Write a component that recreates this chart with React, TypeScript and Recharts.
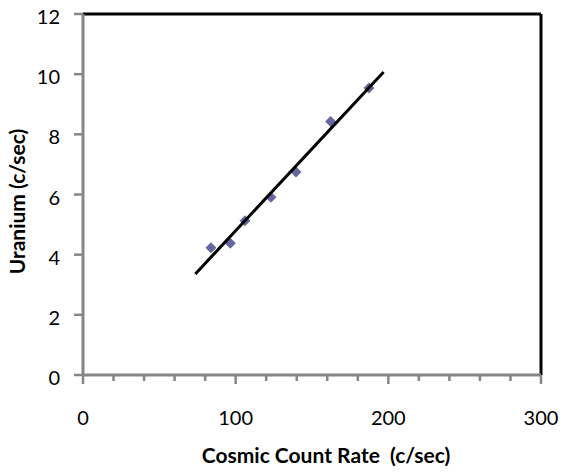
import React from "react";
import { ScatterChart, Scatter, XAxis, YAxis, ReferenceLine } from "recharts";

// Observed data points (Cosmic count rate vs Uranium count rate)
const cosmicRate = [83.8, 96.5, 106.1, 123.1, 139.5, 162.2, 187.3];
const uraniumRate = [4.23, 4.38, 5.13, 5.91, 6.75, 8.43, 9.54];

// Linear trendline end points, as drawn
const trendX = [73.6, 196.9];
const trendY = [3.36, 10.07];

// Tick values
const xTicks = [0, 20, 40, 60, 80, 100, 120, 140, 160, 180, 200, 220, 240, 260, 280, 300];
const xLabelTicks = [0, 100, 200, 300];
const yTicks = [0, 2, 4, 6, 8, 10, 12];

const xTitle = "Cosmic Count Rate  (c/sec)";
const yTitle = "Uranium (c/sec)";

const FONT = "Lato, 'Open Sans', sans-serif";
const AXIS_GRAY = "#868686";
const MARKER = "#67679f";

const points = cosmicRate.map((x, i) => ({ x, y: uraniumRate[i] }));
const trend = trendX.map((x, i) => ({ x, y: trendY[i] }));

const Diamond = (props: any) => {
  const { cx, cy } = props;
  if (cx == null || cy == null) return <g />;
  const r = 5.5;
  return (
    <path
      d={`M${cx},${cy - r}L${cx + r},${cy}L${cx},${cy + r}L${cx - r},${cy}Z`}
      fill={MARKER}
    />
  );
};

const XTick = (props: any) => {
  const { x, y, payload } = props;
  const v = payload.value;
  const major = xLabelTicks.includes(v);
  return (
    <g>
      <line x1={x} x2={x} y1={y} y2={y + (major ? 9 : 6)} stroke={AXIS_GRAY} strokeWidth={2.5} />
      {major && (
        <text x={x} y={y + 50} textAnchor="middle" fontSize={20} fontFamily={FONT} fill="#000">
          {v}
        </text>
      )}
    </g>
  );
};

const XTitle = (props: any) => {
  const vb = props.viewBox || {};
  return (
    <text
      x={vb.x + vb.width / 2 + 14}
      y={463}
      textAnchor="middle"
      fontSize={21}
      fontWeight="bold"
      fontFamily={FONT}
      fill="#000"
      style={{ whiteSpace: "pre" }}
    >
      {xTitle}
    </text>
  );
};

const YTitle = (props: any) => {
  const vb = props.viewBox || {};
  const cx = 25;
  const cy = vb.y + vb.height / 2 + 7;
  return (
    <text
      x={cx}
      y={cy}
      transform={`rotate(-90, ${cx}, ${cy})`}
      textAnchor="middle"
      fontSize={21}
      fontWeight="bold"
      fontFamily={FONT}
      fill="#000"
    >
      {yTitle}
    </text>
  );
};

export default function App() {
  return (
    <div style={{ position: "absolute", left: 0, top: 0, width: 565, height: 472, background: "#fff" }}>
      <ScatterChart
        width={565}
        height={472}
        margin={{ top: 14, right: 24, bottom: 0, left: 0 }}
      >
        <XAxis
          type="number"
          dataKey="x"
          domain={[0, 300]}
          ticks={xTicks}
          interval={0}
          height={97}
          tickSize={0}
          tickMargin={0}
          tickLine={false}
          axisLine={{ stroke: AXIS_GRAY, strokeWidth: 3 }}
          tick={<XTick />}
          label={<XTitle />}
        />
        <YAxis
          type="number"
          dataKey="y"
          domain={[0, 12]}
          ticks={yTicks}
          interval={0}
          width={83}
          tickSize={9}
          tickMargin={14}
          tickLine={{ stroke: AXIS_GRAY, strokeWidth: 2.5 }}
          axisLine={{ stroke: AXIS_GRAY, strokeWidth: 3 }}
          tick={{ fill: "#000", fontSize: 20, fontFamily: FONT, dy: 3 }}
          label={<YTitle />}
        />
        <ReferenceLine y={12} stroke="#000" strokeWidth={3} />
        <ReferenceLine x={300} stroke="#000" strokeWidth={3} />
        <Scatter data={points} shape={<Diamond />} isAnimationActive={false} />
        <Scatter
          data={trend}
          line={{ stroke: "#000", strokeWidth: 3 }}
          shape={() => <g />}
          isAnimationActive={false}
        />
      </ScatterChart>
    </div>
  );
}
